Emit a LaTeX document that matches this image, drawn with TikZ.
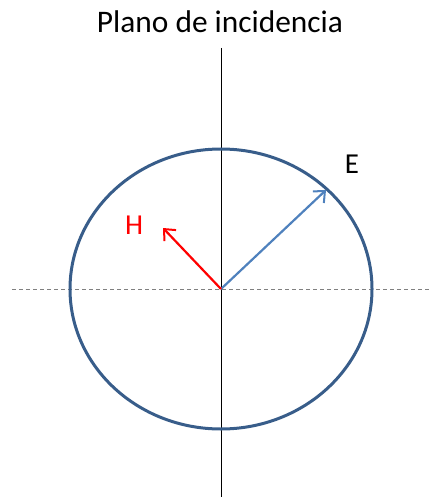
\documentclass[tikz,border=0pt]{standalone}
\usepackage{fontspec}
\setmainfont{Carlito}
\usetikzlibrary{arrows.meta}
\definecolor{ringblue}{RGB}{56,93,138}
\definecolor{eblue}{RGB}{79,129,189}
\definecolor{axisgray}{RGB}{128,128,128}
\begin{document}
\begin{tikzpicture}[x=1bp,y=-1bp,
  lbl/.style={inner sep=0pt, font=\fontsize{29}{31}\selectfont},
  vec/.style={line width=2.2bp, -{Straight Barb[length=9bp,width=16bp,line width=2bp]}}]
\useasboundingbox (0,0) rectangle (437,497);
\coordinate (O) at (221,289);
\node[lbl, font=\fontsize{31.5}{33}\selectfont] (title) at (220,22) {Plano de incidencia};
\coordinate (vtop) at (221,48);
\coordinate (vbot) at (221,497);
\coordinate (hl) at (12,289);
\coordinate (hr) at (430,289);
\draw[axisgray, line width=0.9bp, dash pattern=on 4bp off 3bp] (hl) -- (hr);
\draw[black, line width=1bp] (vtop) -- (vbot);
\draw[ringblue, line width=3bp] (O) ellipse [x radius=151, y radius=140];
\coordinate (Etip) at (326,190);
\coordinate (Htip) at (163,228);
\draw[vec, eblue] (O) -- (Etip);
\draw[vec, red] (O) -- (Htip);
\node[lbl] (E) at (352,164) {E};
\node[lbl, red] (H) at (134,225) {H};
\end{tikzpicture}
\end{document}
